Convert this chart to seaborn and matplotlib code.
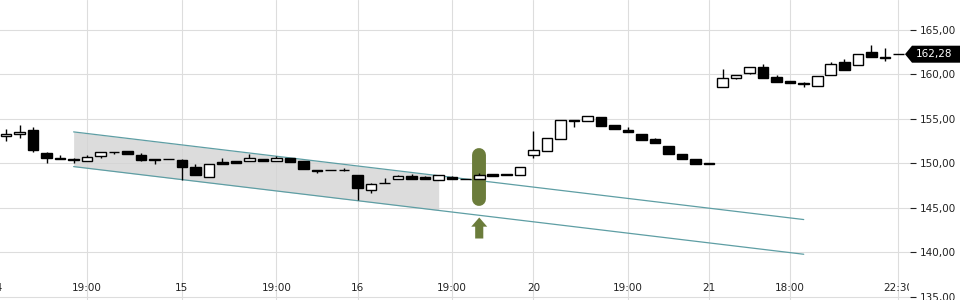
import numpy as np
import pandas as pd
import matplotlib
matplotlib.use("Agg")
import matplotlib.pyplot as plt
import seaborn as sns
from matplotlib.patches import Polygon
from matplotlib.transforms import Bbox, TransformedBbox, IdentityTransform

sns.set_style("white")
plt.rcParams["font.family"] = ["DejaVu Sans"]

# ---- data ----
opens = [153.10, 153.35, 153.80, 151.20, 150.65, 150.50, 150.26, 150.87, 151.30, 151.40,
         150.95, 150.50, 150.55, 150.35, 149.60, 148.50, 150.20, 150.25, 150.30, 150.55,
         150.30, 150.65, 150.25, 149.30, 149.30, 149.30, 148.65, 147.05, 147.85, 148.30,
         148.55, 148.45, 148.20, 148.45, 148.30, 148.30, 148.85, 148.85, 148.75, 151.00,
         151.45, 152.80, 154.90, 154.80, 155.25, 154.35, 153.80, 153.35, 152.75, 152.00,
         151.10, 150.45, 150.00, 158.55, 159.55, 160.15, 160.80, 159.70, 159.25, 159.00,
         158.70, 159.95, 161.40, 161.10, 162.55, 161.80, 162.28]
highs = [153.90, 154.30, 154.15, 151.30, 151.00, 150.60, 151.00, 151.30, 151.32, 151.40,
         151.20, 150.55, 150.55, 150.55, 149.90, 149.95, 150.65, 150.25, 151.10, 150.55,
         150.80, 150.65, 150.25, 149.30, 149.30, 149.45, 148.65, 147.80, 148.35, 148.70,
         148.85, 148.60, 148.65, 148.60, 148.30, 148.95, 148.85, 148.85, 149.65, 153.70,
         152.90, 154.90, 154.90, 155.35, 155.25, 154.35, 154.15, 153.35, 152.90, 152.00,
         151.10, 150.45, 150.00, 160.65, 159.90, 160.80, 161.20, 159.90, 159.25, 159.20,
         159.80, 161.40, 161.70, 162.35, 163.35, 163.00, 162.28]
lows = [152.50, 152.90, 151.25, 150.05, 150.45, 150.05, 150.26, 150.65, 151.10, 151.05,
        150.25, 149.95, 150.50, 148.20, 148.75, 148.50, 149.95, 150.10, 150.30, 150.25,
        150.30, 150.15, 149.40, 148.90, 149.28, 149.15, 145.85, 146.65, 147.80, 148.30,
        148.30, 148.30, 148.20, 148.30, 148.25, 148.30, 148.60, 148.70, 148.75, 150.60,
        151.45, 152.80, 154.10, 154.80, 154.25, 153.85, 153.50, 152.60, 152.30, 151.05,
        150.50, 149.95, 149.97, 158.55, 159.50, 160.00, 159.55, 159.10, 159.00, 158.60,
        158.70, 159.95, 160.55, 161.10, 162.00, 161.55, 162.28]
closes = [153.35, 153.55, 151.55, 150.60, 150.50, 150.35, 150.75, 151.30, 151.27, 151.05,
          150.40, 150.40, 150.52, 149.60, 148.75, 149.95, 149.95, 150.10, 150.65, 150.25,
          150.65, 150.15, 149.40, 149.15, 149.28, 149.28, 147.20, 147.65, 147.82, 148.55,
          148.30, 148.30, 148.65, 148.30, 148.25, 148.75, 148.60, 148.70, 149.65, 151.55,
          152.90, 154.90, 154.75, 155.35, 154.25, 153.85, 153.50, 152.60, 152.30, 151.05,
          150.50, 149.95, 149.97, 159.55, 159.90, 160.80, 159.55, 159.10, 159.00, 158.90,
          159.80, 161.15, 160.55, 162.35, 162.00, 162.00, 162.28]

tick_pos = [-0.74, 6, 13, 20, 26, 33, 39, 46, 52, 58, 66]
tick_labels = ["14", "19:00", "15", "19:00", "16", "19:00", "20", "19:00", "21", "18:00", "22:30"]
y_ticks = [135, 140, 145, 150, 155, 160, 165]

# channel (trend lines)
chan_x = [5, 59]
chan_upper = [153.55, 143.70]
chan_lower = [149.65, 139.80]
shade_x_end = 32

# signal marker
marker_idx = 35
capsule_top, capsule_bottom = 150.99, 146.06
arrow_tip, arrow_neck, arrow_base = 143.93, 142.90, 141.57

last_price = 162.28

# ---- figure ----
fig = plt.figure(figsize=(9.6, 3.0), dpi=100)
ax = fig.add_axes([-4.8 / 960, 0, 914.8 / 960, 1])

df = pd.DataFrame({"o": opens, "h": highs, "l": lows, "c": closes})
df["i"] = np.arange(len(df))
df["up"] = df["c"] >= df["o"]
df["bot"] = df[["o", "c"]].min(axis=1)
df["hgt"] = (df["c"] - df["o"]).abs().clip(lower=0.03)

# channel shading & lines
xs = np.array([chan_x[0], shade_x_end])
up_s = np.interp(xs, chan_x, chan_upper)
lo_s = np.interp(xs, chan_x, chan_lower)
ax.fill_between(xs, lo_s, up_s, color="#d4d4d4", alpha=0.8, lw=0, zorder=1)
chan_df = pd.DataFrame({"x": chan_x * 2, "y": chan_upper + chan_lower,
                        "line": ["u", "u", "l", "l"]})
sns.lineplot(data=chan_df, x="x", y="y", units="line", estimator=None,
             color="#5e9ea4", lw=0.9, ax=ax, zorder=2)

# signal capsule and arrow
green = "#6b7c3b"
ax.plot([marker_idx, marker_idx], [capsule_top, capsule_bottom], color=green,
        lw=10, solid_capstyle="round", zorder=2.5)
hw, sw = 0.59, 0.30
arrow = Polygon([(marker_idx, arrow_tip), (marker_idx + hw, arrow_neck),
                 (marker_idx + sw, arrow_neck), (marker_idx + sw, arrow_base),
                 (marker_idx - sw, arrow_base), (marker_idx - sw, arrow_neck),
                 (marker_idx - hw, arrow_neck)], closed=True, color=green, lw=0, zorder=2.5)
ax.add_patch(arrow)

# candles
ax.vlines(df["i"], df["l"], df["h"], color="black", lw=1.0, zorder=3)
u = df[df["up"]]
d = df[~df["up"]]
ax.bar(u["i"], u["hgt"], bottom=u["bot"], width=0.78, color="white",
       edgecolor="black", lw=1.0, zorder=4)
ax.bar(d["i"], d["hgt"], bottom=d["bot"], width=0.78, color="black",
       edgecolor="black", lw=1.0, zorder=4)

# axes
ax.set_xlim(-0.8, 66.86)
ax.set_ylim(134.66, 168.37)
ax.set_xticks(tick_pos)
ax.set_xticklabels(tick_labels)
ax.set_yticks(y_ticks)
ax.set_yticklabels([f"{v:.2f}".replace(".", ",") for v in y_ticks])
ax.yaxis.tick_right()
ax.grid(True, color="#dddddd", lw=0.8)
ax.set_axisbelow(True)
for s in ax.spines.values():
    s.set_visible(False)
ax.tick_params(axis="x", direction="in", length=5, width=0.8, color="#222222",
               pad=-12.5, labelsize=7.5, labelcolor="#222222")
ax.tick_params(axis="y", direction="out", length=4, width=0.8, color="#222222",
               pad=3, labelsize=7.5, labelcolor="#222222")
ax.set_xlabel("")
ax.set_ylabel("")
legend = ax.get_legend()
if legend is not None:
    legend.remove()

clipbox = TransformedBbox(Bbox.from_extents(0, 0, 909 / 960, 1), fig.transFigure)
for t in ax.xaxis.get_major_ticks():
    t.label1.set_clip_box(clipbox)
    t.label1.set_clip_on(True)

# last price tag
y_disp = ax.transData.transform((0, last_price))[1]
tag = Polygon([(905, y_disp), (912, y_disp + 8.5), (960, y_disp + 8.5),
               (960, y_disp - 8.5), (912, y_disp - 8.5)], closed=True,
              transform=IdentityTransform(), color="black", lw=0)
fig.add_artist(tag)
fig.text(916 / 960, y_disp / 300, f"{last_price:.2f}".replace(".", ","), color="white",
         va="center", ha="left", fontsize=7.5)

fig.savefig("out.png", dpi=100)
